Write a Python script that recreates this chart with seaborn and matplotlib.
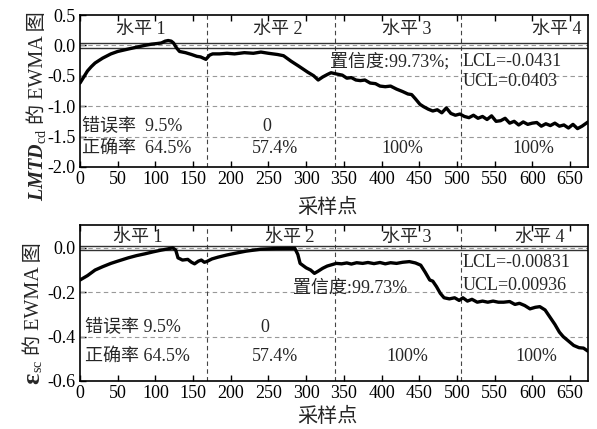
import matplotlib
matplotlib.use("Agg")
import matplotlib.pyplot as plt
import seaborn as sns
import pandas as pd

# ---------------- data ----------------
top_x = [0, 5, 10, 15, 20, 30, 41, 50, 64, 75, 86, 95, 102, 108, 113, 117, 121, 124, 128, 132,
         140, 148, 155, 160, 167, 172, 176, 185, 195, 205, 218, 230, 240, 250, 262, 270, 280, 290,
         302, 310, 316, 322, 328, 333, 340, 348, 354, 360, 366, 372, 378, 385, 392, 398, 405, 412,
         420, 428, 435, 440, 445, 451, 456, 462, 468, 474, 480, 486, 492, 498, 504, 510, 516, 522,
         528, 534, 540, 546, 552, 558, 564, 570, 576, 582, 588, 594, 600, 606, 612, 618, 624, 630,
         636, 642, 648, 654, 660, 666, 674]
top_y = [-0.62, -0.52, -0.42, -0.35, -0.29, -0.21, -0.14, -0.10, -0.06, -0.03, 0.00, 0.02, 0.03,
         0.04, 0.07, 0.08, 0.07, 0.04, -0.04, -0.10, -0.12, -0.15, -0.18, -0.19, -0.23, -0.16,
         -0.14, -0.14, -0.13, -0.14, -0.12, -0.13, -0.11, -0.13, -0.15, -0.17, -0.26, -0.34,
         -0.44, -0.50, -0.57, -0.52, -0.48, -0.45, -0.47, -0.49, -0.54, -0.53, -0.57, -0.58,
         -0.57, -0.62, -0.63, -0.67, -0.68, -0.67, -0.72, -0.76, -0.80, -0.81, -0.88, -0.97,
         -1.01, -1.05, -1.08, -1.06, -1.11, -1.03, -1.12, -1.15, -1.13, -1.17, -1.19, -1.15,
         -1.20, -1.17, -1.22, -1.16, -1.25, -1.24, -1.20, -1.28, -1.25, -1.31, -1.26, -1.30,
         -1.28, -1.27, -1.33, -1.29, -1.32, -1.28, -1.33, -1.31, -1.36, -1.30, -1.37, -1.33, -1.26]

bot_x = [0, 10, 20, 30, 41, 50, 64, 75, 86, 97, 108, 116, 123, 127, 130, 136, 143, 148, 152, 157,
         161, 165, 168, 175, 183, 195, 205, 220, 240, 260, 285, 289, 292, 300, 306, 311, 316, 322,
         328, 334, 340, 347, 354, 360, 367, 375, 382, 390, 398, 405, 412, 420, 428, 437, 445, 452,
         458, 464, 468, 473, 478, 483, 490, 497, 503, 508, 514, 520, 527, 534, 541, 548, 555, 562,
         570, 577, 583, 590, 597, 604, 610, 617, 623, 630, 636, 641, 648, 655, 662, 668, 674]
bot_y = [-0.145, -0.125, -0.10, -0.085, -0.07, -0.06, -0.045, -0.035, -0.027, -0.018, -0.01,
         -0.005, 0.0, -0.01, -0.045, -0.055, -0.052, -0.065, -0.072, -0.06, -0.055, -0.065,
         -0.062, -0.05, -0.042, -0.032, -0.025, -0.015, -0.006, -0.003, -0.002, -0.03, -0.07,
         -0.09, -0.10, -0.115, -0.105, -0.092, -0.082, -0.076, -0.07, -0.072, -0.068, -0.073,
         -0.067, -0.07, -0.066, -0.071, -0.066, -0.072, -0.067, -0.07, -0.065, -0.062, -0.068,
         -0.078, -0.11, -0.145, -0.15, -0.175, -0.205, -0.225, -0.23, -0.225, -0.237, -0.225,
         -0.24, -0.232, -0.245, -0.24, -0.245, -0.24, -0.245, -0.245, -0.242, -0.255, -0.25,
         -0.26, -0.275, -0.268, -0.265, -0.28, -0.31, -0.345, -0.38, -0.40, -0.42, -0.44, -0.45,
         -0.452, -0.466]

level_bounds = [168, 338, 505]
level_labels = ["水平 1", "水平 2", "水平 3", "水平 4"]
top_level_x = [81, 263, 434, 633]
bot_level_x = [77, 278, 434, 610]
top_ucl, top_lcl = 0.0403, -0.0431
bot_ucl, bot_lcl = 0.00936, -0.00831
err_labels = ["错误率  9.5%", "0"]
acc_labels = ["正确率  64.5%", "57.4%", "100%", "100%"]

# ---------------- style ----------------
sns.set_style("ticks")
FAM = ['Liberation Serif', 'Noto Sans CJK SC']
plt.rcParams['font.family'] = FAM
plt.rcParams['mathtext.fontset'] = 'custom'
plt.rcParams['mathtext.rm'] = 'Liberation Serif'
plt.rcParams['mathtext.it'] = 'Liberation Serif:italic'
plt.rcParams['mathtext.bf'] = 'Liberation Serif:bold'
plt.rcParams['mathtext.bfit'] = 'Liberation Serif:italic:bold'
plt.rcParams['axes.unicode_minus'] = False

fig = plt.figure(figsize=(5.97, 4.29), dpi=100)
ax1 = fig.add_axes([0.134, 0.611, 0.851, 0.354])
ax2 = fig.add_axes([0.134, 0.112, 0.851, 0.3635])

FS = 13
LFS = 14.5


def style_axes(ax, yticks, ylim):
    ax.set_xlim(0, 674)
    ax.set_ylim(*ylim)
    ax.set_xticks(range(0, 651, 50))
    ax.set_yticks(yticks)
    ax.tick_params(direction='in', length=4, width=1, top=True, right=False,
                   labelsize=FS, colors='black', pad=3)
    for s in ax.spines.values():
        s.set_linewidth(1.2)
        s.set_color('black')
    ax.set_xlabel("")
    ax.set_ylabel("")


def grid_lines(ax, ys):
    for yv in ys:
        ax.axhline(yv, color='#999999', lw=0.8, ls=(0, (4, 3)), zorder=1)
    for xb in level_bounds:
        ax.axvline(xb, color='#444444', lw=0.8, ls=(0, (4, 3)), zorder=1)


renderer = fig.canvas.get_renderer()


def rotated_label(x_fig, y_center_fig, parts):
    texts = []
    for txt, size, weight in parts:
        t = fig.text(x_fig, 0, txt, rotation=90, rotation_mode='anchor',
                     ha='left', va='baseline', fontsize=size, fontweight=weight, family=FAM)
        texts.append(t)
    lengths = [t.get_window_extent(renderer).height / fig.bbox.height for t in texts]
    y = y_center_fig - sum(lengths) / 2
    for t, L in zip(texts, lengths):
        t.set_position((x_fig, y))
        y += L


# ---- top panel ----
df_top = pd.DataFrame({"x": top_x, "y": top_y})
grid_lines(ax1, [0.0, -0.5, -1.0, -1.5])
ax1.axhline(top_ucl, color='#333333', lw=1.0, zorder=2)
ax1.axhline(top_lcl, color='#333333', lw=1.0, zorder=2)
sns.lineplot(data=df_top, x="x", y="y", ax=ax1, color='black', lw=2.4, zorder=3)
style_axes(ax1, [0.5, 0.0, -0.5, -1.0, -1.5, -2.0], (-2.0, 0.5))
ax1.set_yticklabels(["0.5", "0.0", "-0.5", "-1.0", "-1.5", "-2.0"])
for lx, lab in zip(top_level_x, level_labels):
    ax1.text(lx, 0.26, lab, ha='center', va='center', fontsize=FS)
ax1.text(332, -0.26, "置信度:99.73%;", ha='left', va='center', fontsize=FS)
ax1.text(507, -0.26, "LCL=-0.0431", ha='left', va='center', fontsize=FS)
ax1.text(507, -0.59, "UCL=0.0403", ha='left', va='center', fontsize=FS)
ax1.text(3, -1.34, err_labels[0], ha='left', va='center', fontsize=FS)
ax1.text(248, -1.34, err_labels[1], ha='center', va='center', fontsize=FS)
ax1.text(3, -1.70, acc_labels[0], ha='left', va='center', fontsize=FS)
ax1.text(259, -1.70, acc_labels[1], ha='center', va='center', fontsize=FS)
ax1.text(427, -1.70, acc_labels[2], ha='center', va='center', fontsize=FS)
ax1.text(601, -1.70, acc_labels[3], ha='center', va='center', fontsize=FS)

# ---- bottom panel ----
df_bot = pd.DataFrame({"x": bot_x, "y": bot_y})
grid_lines(ax2, [0.0, -0.2, -0.4])
ax2.axhline(bot_ucl, color='#333333', lw=1.0, zorder=2)
ax2.axhline(bot_lcl, color='#333333', lw=1.0, zorder=2)
sns.lineplot(data=df_bot, x="x", y="y", ax=ax2, color='black', lw=2.4, zorder=3)
style_axes(ax2, [0.0, -0.2, -0.4, -0.6], (-0.6, 0.103))
ax2.set_yticklabels(["0.0", "-0.2", "-0.4", "-0.6"])
for lx, lab in zip(bot_level_x, level_labels):
    ax2.text(lx, 0.045, lab, ha='center', va='center', fontsize=FS)
ax2.text(283, -0.18, "置信度:99.73%", ha='left', va='center', fontsize=FS)
ax2.text(508, -0.068, "LCL=-0.00831", ha='left', va='center', fontsize=FS)
ax2.text(508, -0.17, "UCL=0.00936", ha='left', va='center', fontsize=FS)
ax2.text(6, -0.36, "错误率 9.5%", ha='left', va='center', fontsize=FS)
ax2.text(245, -0.36, err_labels[1], ha='center', va='center', fontsize=FS)
ax2.text(6, -0.49, "正确率 64.5%", ha='left', va='center', fontsize=FS)
ax2.text(259, -0.49, acc_labels[1], ha='center', va='center', fontsize=FS)
ax2.text(434, -0.49, acc_labels[2], ha='center', va='center', fontsize=FS)
ax2.text(606, -0.49, acc_labels[3], ha='center', va='center', fontsize=FS)

# ---- axis titles ----
fig.text(0.548, 0.513, "采样点", ha='center', va='center', fontsize=LFS)
fig.text(0.548, 0.028, "采样点", ha='center', va='center', fontsize=LFS)
rotated_label(0.072, 0.753, [(r"$\mathbfit{LMTD}_{\mathrm{cd}}$", LFS, 'normal'),
                             (" 的 EWMA 图", LFS, 'normal')])
rotated_label(0.066, 0.27, [("ε", 19, 'bold'),
                            (r"${}_{\mathrm{sc}}$", LFS, 'normal'),
                            (" 的 EWMA 图", LFS, 'normal')])

fig.savefig("out.png", dpi=100)
